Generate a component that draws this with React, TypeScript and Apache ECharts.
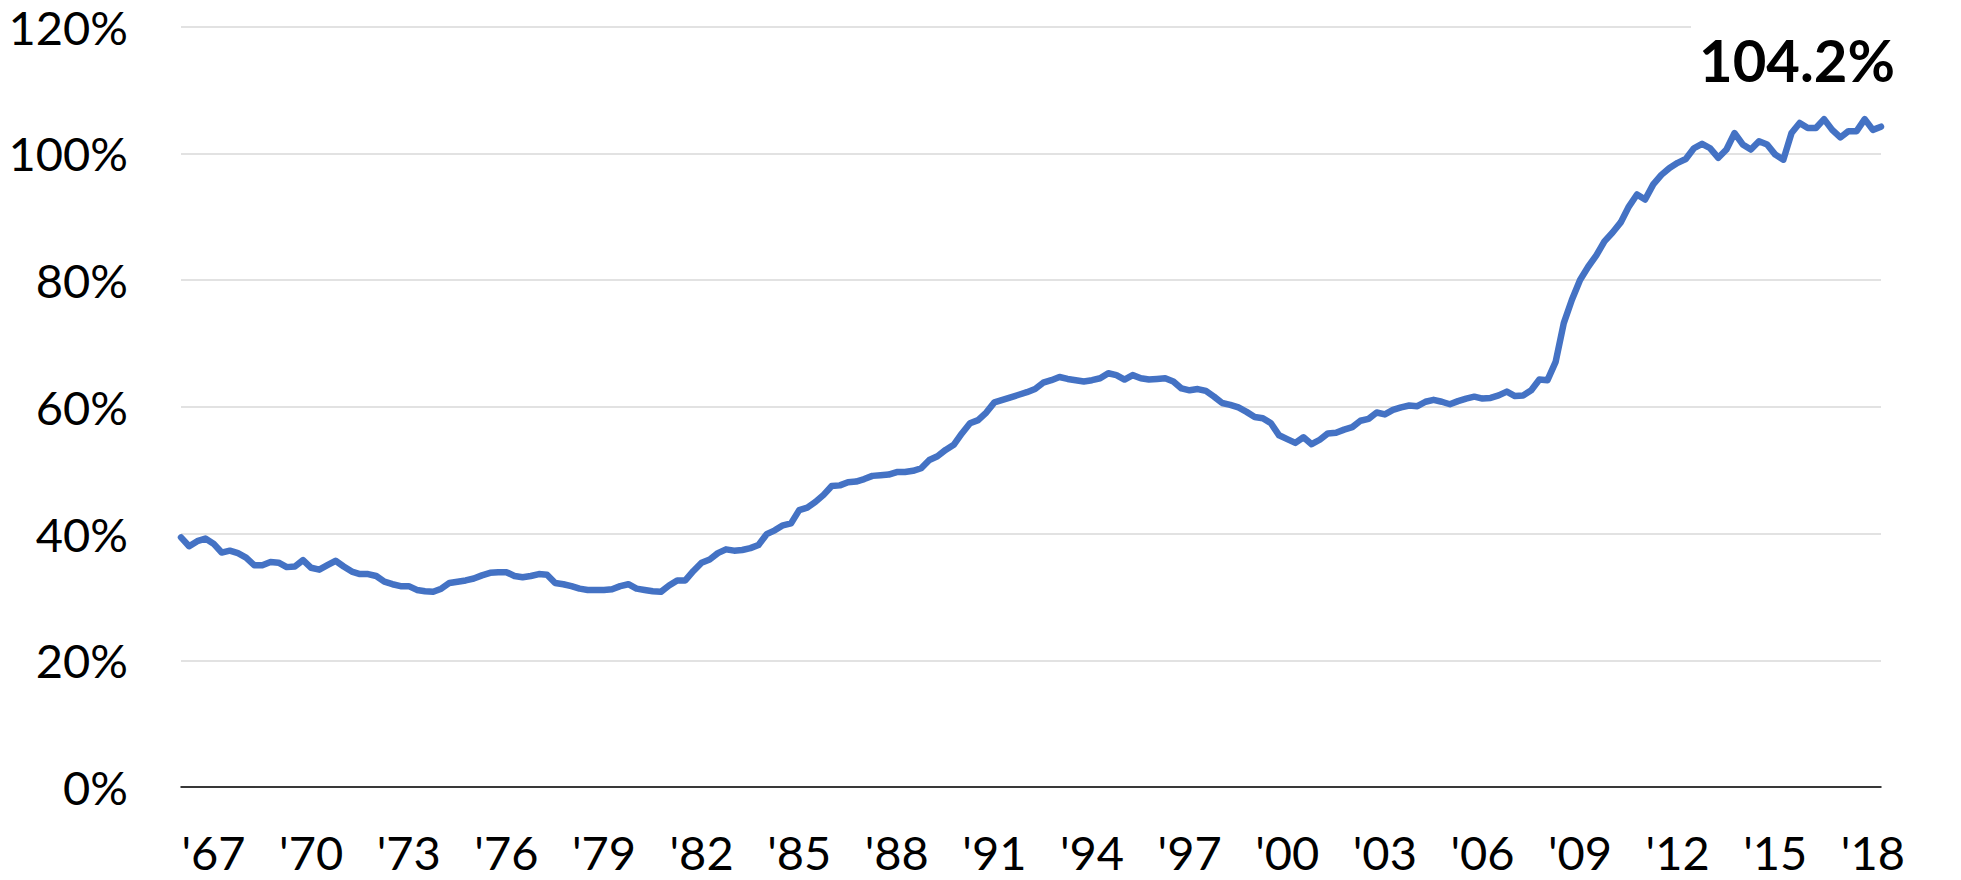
import React, { useEffect, useRef } from "react";
import * as echarts from "echarts";

// Quarterly series, first point = 1966 Q1, last point = 2018 Q2
const START_YEAR = 1966;

const ratioValues: number[] = [
  39.4, 38.0, 38.8, 39.2, 38.4, 37.0, 37.3, 36.9, 36.2, 35.0,
  35.0, 35.5, 35.4, 34.7, 34.8, 35.8, 34.6, 34.3, 35.0, 35.7,
  34.8, 34.0, 33.6, 33.6, 33.3, 32.4, 32.0, 31.7, 31.7, 31.1,
  30.9, 30.8, 31.3, 32.2, 32.4, 32.6, 32.9, 33.4, 33.8, 33.9,
  33.9, 33.3, 33.1, 33.3, 33.6, 33.5, 32.2, 32.0, 31.7, 31.3,
  31.1, 31.1, 31.1, 31.2, 31.7, 32.0, 31.3, 31.1, 30.9, 30.8,
  31.8, 32.6, 32.6, 34.1, 35.4, 35.9, 36.9, 37.5, 37.3, 37.4,
  37.7, 38.2, 39.9, 40.5, 41.3, 41.6, 43.7, 44.1, 45.0, 46.1,
  47.5, 47.6, 48.1, 48.2, 48.6, 49.1, 49.2, 49.3, 49.7, 49.7,
  49.9, 50.3, 51.6, 52.2, 53.2, 54.0, 55.8, 57.4, 57.9, 59.1,
  60.7, 61.1, 61.5, 61.9, 62.3, 62.8, 63.8, 64.2, 64.7, 64.4,
  64.2, 64.0, 64.2, 64.5, 65.3, 65.0, 64.3, 65.0, 64.5, 64.3,
  64.4, 64.5, 64.0, 62.9, 62.6, 62.8, 62.5, 61.6, 60.6, 60.3,
  59.9, 59.2, 58.4, 58.2, 57.4, 55.5, 54.9, 54.3, 55.2, 54.1,
  54.8, 55.8, 55.9, 56.4, 56.8, 57.8, 58.1, 59.1, 58.8, 59.5,
  59.9, 60.2, 60.1, 60.8, 61.1, 60.8, 60.4, 60.9, 61.3, 61.6,
  61.3, 61.4, 61.8, 62.4, 61.7, 61.8, 62.6, 64.3, 64.2, 67.1,
  73.2, 76.9, 80.0, 82.1, 83.9, 86.1, 87.5, 89.1, 91.6, 93.5,
  92.7, 95.1, 96.6, 97.7, 98.5, 99.1, 100.8, 101.5, 100.8, 99.3,
  100.6, 103.2, 101.4, 100.6, 101.9, 101.4, 99.8, 99.0, 103.2, 104.8,
  104.0, 104.0, 105.4, 103.7, 102.5, 103.5, 103.5, 105.4, 103.7, 104.2,
];

const quarterCategories: string[] = ratioValues.map(
  (_, i) => `${START_YEAR + Math.floor(i / 4)} Q${(i % 4) + 1}`
);

const yearTickLabels: string[] = [
  "'67", "'70", "'73", "'76", "'79", "'82", "'85", "'88", "'91",
  "'94", "'97", "'00", "'03", "'06", "'09", "'12", "'15", "'18",
];
const FIRST_TICK_INDEX = 4; // 1967 Q1
const TICK_STEP = 12; // every 3 years

const Y_MIN = 0;
const Y_MAX = 120;
const Y_STEP = 20;

const FONT = "Lato, 'Open Sans', 'Noto Sans', sans-serif";

export default function App() {
  const ref = useRef<HTMLDivElement>(null);

  useEffect(() => {
    if (!ref.current) return;
    const chart = echarts.init(ref.current, null, { renderer: "svg" });
    const isTick = (i: number) =>
      i >= FIRST_TICK_INDEX && (i - FIRST_TICK_INDEX) % TICK_STEP === 0;

    chart.setOption({
      animation: false,
      backgroundColor: "#ffffff",
      grid: { left: 181, right: 80, top: 26.6, bottom: 93, containLabel: false },
      xAxis: {
        type: "category",
        data: quarterCategories,
        boundaryGap: false,
        axisLine: { show: true, lineStyle: { color: "#000000", width: 1.5 } },
        axisTick: { show: false },
        splitLine: { show: false },
        axisLabel: {
          interval: (i: number) => isTick(i),
          formatter: (_v: string, i: number) =>
            isTick(i) ? yearTickLabels[(i - FIRST_TICK_INDEX) / TICK_STEP] ?? "" : "",
          fontSize: 47,
          fontFamily: FONT,
          color: "#000000",
          margin: 41,
          hideOverlap: false,
        },
      },
      yAxis: {
        type: "value",
        min: Y_MIN,
        max: Y_MAX,
        interval: Y_STEP,
        axisLine: { show: false },
        axisTick: { show: false },
        splitLine: { show: true, lineStyle: { color: "#d9d9d9", width: 1.5 } },
        axisLabel: {
          formatter: "{value}%",
          fontSize: 47,
          fontFamily: FONT,
          color: "#000000",
          margin: 53,
        },
      },
      series: [
        {
          type: "line",
          data: ratioValues,
          showSymbol: false,
          symbol: "none",
          lineStyle: { color: "#4472C4", width: 6.5, join: "round", cap: "round" },
          itemStyle: { color: "#4472C4" },
          z: 3,
        },
      ],
    });

    const lastIdx = ratioValues.length - 1;
    const lastVal = ratioValues[lastIdx];
    const pt = chart.convertToPixel({ seriesIndex: 0 }, [lastIdx, lastVal]) as number[];
    if (pt && isFinite(pt[0])) {
      chart.setOption({
        graphic: [
          {
            type: "rect",
            z: 100,
            shape: { x: pt[0] - 190, y: 0, width: 240, height: pt[1] - 40 },
            style: { fill: "#ffffff" },
          },
          {
            type: "text",
            z: 101,
            style: {
              text: `${lastVal.toFixed(1)}%`,
              x: pt[0] - 84,
              y: pt[1] - 67,
              align: "center",
              verticalAlign: "middle",
              fontSize: 58,
              fontWeight: "bold",
              fontFamily: FONT,
              fill: "#000000",
            },
          },
        ],
      });
    }

    return () => chart.dispose();
  }, []);

  return (
    <div
      ref={ref}
      style={{ position: "absolute", left: 0, top: 0, width: 1961, height: 880 }}
    />
  );
}
